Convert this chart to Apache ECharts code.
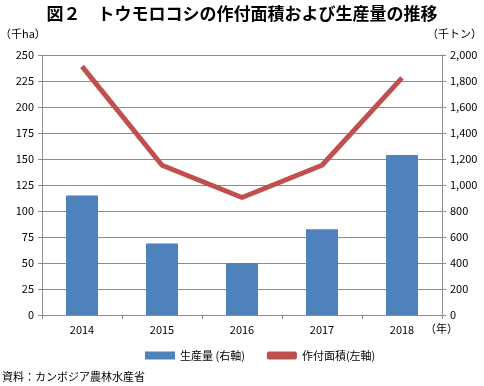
<!DOCTYPE html>
<html><head><meta charset="utf-8">
<script src="https://cdn.jsdelivr.net/npm/echarts@6/dist/echarts.min.js"></script>
<style>html,body{margin:0;padding:0;background:#fff}#c{width:484px;height:386px}</style>
</head><body><div id="c"></div>
<script>
const categories = ['2014','2015','2016','2017','2018'];
const production = [920, 550, 400, 660, 1230];   // 千トン (right axis)
const area = [239, 144, 113, 144, 228];          // 千ha (left axis)
const leftTicks = [0,25,50,75,100,125,150,175,200,225,250];
const rightTicks = [0,200,400,600,800,1000,1200,1400,1600,1800,2000];

const font = '"Noto Sans CJK JP", "Noto Sans", sans-serif';
const chart = echarts.init(document.getElementById('c'));
chart.setOption({
  animation: false,
  textStyle: {fontFamily: font},
  title: {
    text: '図２　トウモロコシの作付面積および生産量の推移',
    left: 'center', top: 0,
    textStyle: {fontSize: 17, fontWeight: 'bold', color: '#000', fontFamily: font}
  },
  graphic: [
    {type: 'text', left: 0, top: 28, style: {text: '（千ha）', fontSize: 11, fill: '#000', fontFamily: font}},
    {type: 'text', right: 2, top: 28, style: {text: '（千トン）', fontSize: 11, fill: '#000', fontFamily: font}},
    {type: 'text', left: 425, top: 323, style: {text: '（年）', fontSize: 11, fill: '#000', fontFamily: font}},
    {type: 'text', left: 2, top: 371, style: {text: '資料：カンボジア農林水産省', fontSize: 11, fill: '#000', fontFamily: font}}
  ],
  legend: {
    left: 140, bottom: 20, itemGap: 22, itemWidth: 30, itemHeight: 8,
    textStyle: {fontSize: 11, color: '#000', fontFamily: font},
    data: [
      {name: '生産量 (右軸)', icon: 'rect'},
      {name: '作付面積(左軸)', icon: 'roundRect'}
    ]
  },
  grid: {left: 42, right: 42, top: 55, bottom: 71, containLabel: false},
  xAxis: {
    type: 'category', data: categories, boundaryGap: true,
    axisLine: {lineStyle: {color: '#8c8c8c', width: 1}},
    axisTick: {show: true, alignWithLabel: false, length: 4, lineStyle: {color: '#8c8c8c'}},
    axisLabel: {color: '#000', fontSize: 11, margin: 9}
  },
  yAxis: [
    {type: 'value', min: 0, max: 250, interval: 25, position: 'left',
     axisLine: {show: true, lineStyle: {color: '#8c8c8c'}},
     axisTick: {show: true, length: 4, lineStyle: {color: '#8c8c8c'}},
     axisLabel: {color: '#000', fontSize: 11, margin: 8},
     splitLine: {lineStyle: {color: '#8c8c8c'}}},
    {type: 'value', min: 0, max: 2000, interval: 200, position: 'right',
     axisLine: {show: true, lineStyle: {color: '#8c8c8c'}},
     axisTick: {show: true, length: 4, lineStyle: {color: '#8c8c8c'}},
     axisLabel: {color: '#000', fontSize: 11, margin: 8,
       formatter: v => v.toLocaleString('en-US')},
     splitLine: {show: false}}
  ],
  series: [
    {name: '生産量 (右軸)', type: 'bar', yAxisIndex: 1, data: production,
     barWidth: 32, itemStyle: {color: '#4F81BD'}},
    {name: '作付面積(左軸)', type: 'line', yAxisIndex: 0, data: area,
     symbol: 'none', lineStyle: {color: '#C0504D', width: 5}, itemStyle: {color: '#C0504D'}}
  ]
});
</script></body></html>
